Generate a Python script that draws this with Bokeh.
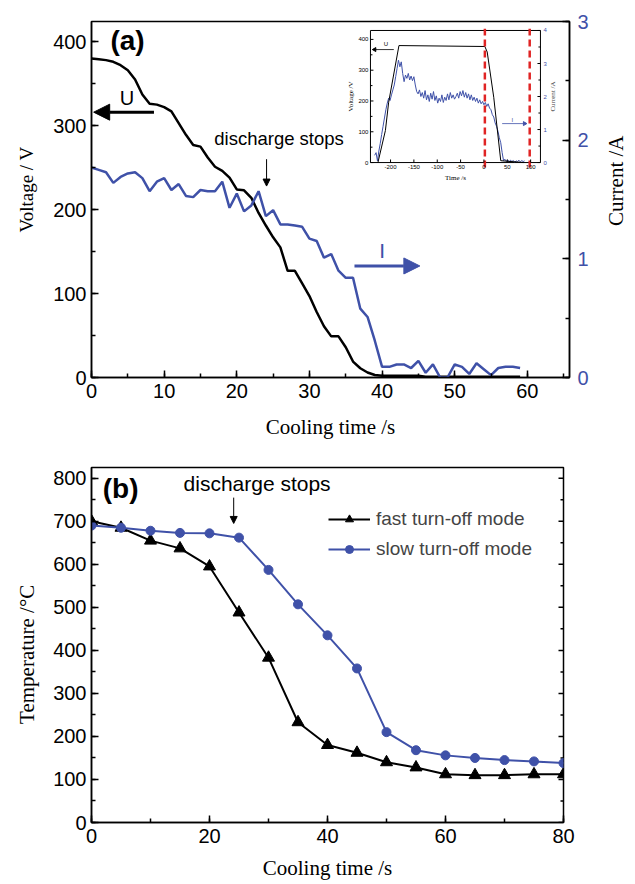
import math
from bokeh.plotting import figure
from bokeh.models import (Range1d, LinearAxis, SingleIntervalTicker, Arrow, NormalHead,
                          Legend, LegendItem, Label)
from bokeh.layouts import column, row
from bokeh.embed import file_html
from bokeh.resources import INLINE
from bokeh.core.properties import value

BLUE = "#3f51a8"
RED = "#e02424"
SANS = "Liberation Sans"
SERIF = "Liberation Serif"

# ---------------- data: panel (a) ----------------
time_a = list(range(60))
voltage_a = [380, 379, 378, 376, 372, 366, 355, 337, 326, 325,
             322, 317, 303, 289, 277, 275, 262, 251, 246, 238,
             224, 223, 214, 196, 181, 167, 155, 127, 127, 112,
             97, 78, 61, 49, 49, 36, 19, 11, 6, 3,
             2, 2, 2, 2, 2, 2, 1, 1, 1, 1,
             1, 1, 1, 1, 1, 1, 1, 1, 1, 1]
current_a = [1.77, 1.75, 1.73, 1.64, 1.69, 1.72, 1.73, 1.68, 1.57, 1.65,
             1.68, 1.58, 1.63, 1.53, 1.52, 1.58, 1.57, 1.57, 1.65, 1.43,
             1.55, 1.40, 1.45, 1.57, 1.36, 1.41, 1.29, 1.29, 1.28, 1.27,
             1.17, 1.15, 1.01, 1.04, 0.90, 0.84, 0.84, 0.58, 0.51, 0.31,
             0.09, 0.09, 0.11, 0.11, 0.08, 0.14, 0.04, 0.11, 0.00, 0.00,
             0.11, 0.09, 0.03, 0.12, 0.07, 0.02, 0.08, 0.09, 0.09, 0.08]

# ---------------- data: inset ----------------
inset_time_u = [-227, -211, -204, -182, 2, 7, 21, 36, 85]
inset_voltage = [0, 104, 196, 380, 377, 359, 212, 6, 0]
inset_current = [0.22, 0.30, 0.05, 0.35, 0.58, 0.85, 1.10, 1.35, 1.60, 1.80,
                 1.95, 1.88, 2.05, 2.20, 2.35, 2.60, 2.85, 3.10, 2.90, 3.05,
                 2.70, 2.45, 2.65, 2.55, 2.70, 2.50, 2.62, 2.48, 2.60, 2.35,
                 2.15, 2.08, 2.20, 2.00, 2.12, 1.95, 2.18, 1.90, 2.05, 1.85,
                 2.10, 1.92, 2.15, 1.88, 2.02, 1.80, 1.95, 1.85, 2.05, 1.82,
                 1.98, 1.88, 2.08, 1.90, 2.12, 1.95, 2.05, 1.92, 2.00, 2.10,
                 1.95, 2.15, 2.02, 2.18, 1.98, 2.12, 1.95, 2.08, 1.90, 2.05,
                 1.88, 1.98, 1.85, 1.95, 1.80, 1.90, 1.78, 1.85, 1.75, 1.82,
                 1.70, 1.78, 1.65, 1.60, 1.45, 1.38, 1.20, 1.10, 0.95, 0.75,
                 0.60, 0.30, 0.06, 0.10, 0.04, 0.08, 0.02, 0.07, 0.03, 0.06,
                 0.01, 0.05, 0.03, 0.07, 0.02, 0.06, 0.03, 0.05]
inset_time_i = list(range(-234, -234 + 3 * len(inset_current), 3))
inset_marks = [2, 98]
inset_x_ticks = [-200, -150, -100, -50, 0, 50, 100]
inset_v_ticks = [0, 100, 200, 300, 400]
inset_v_minor = [50, 150, 250, 350]
inset_i_ticks = [0, 1, 2, 3, 4]
inset_i_minor = [0.5, 1.5, 2.5, 3.5]
inset_x_lim = (-243, 121)
inset_v_lim = (0, 429)
inset_i_lim = (0, 4)

# ---------------- data: panel (b) ----------------
time_b = [0, 5, 10, 15, 20, 25, 30, 35, 40, 45, 50, 55, 60, 65, 70, 75, 80]
temp_fast = [700, 685, 655, 637, 595, 488, 383, 233, 180, 162, 140, 128, 112, 110, 110, 112, 112]
temp_slow = [690, 685, 678, 673, 672, 662, 587, 507, 435, 358, 210, 168, 156, 150, 145, 142, 138]
temp_major = [0, 100, 200, 300, 400, 500, 600, 700, 800]
temp_minor = [50, 150, 250, 350, 450, 550, 650, 750]


def style_axis(ax, size="20px", label_size="21px", maj=7, mnr=4, lw=1.5):
    ax.axis_line_width = lw
    ax.major_tick_line_width = lw
    ax.minor_tick_line_width = lw
    ax.major_tick_in = maj
    ax.major_tick_out = 0
    ax.minor_tick_in = mnr
    ax.minor_tick_out = 0
    ax.major_label_text_font = SANS
    ax.major_label_text_font_size = size
    ax.major_label_text_color = "black"
    ax.axis_label_text_font = SERIF
    ax.axis_label_text_font_size = label_size
    ax.axis_label_text_font_style = "normal"
    ax.axis_label_text_color = "black"


def label_strip(width, height, text, cx, cy, size="21px"):
    """A thin figure that carries one rotated axis title (cx, cy: pixels from bottom-left)."""
    s = figure(width=width, height=height, output_backend="svg", toolbar_location=None,
               x_range=Range1d(0, width), y_range=Range1d(0, height),
               min_border=0, min_border_left=0, min_border_right=0,
               min_border_top=0, min_border_bottom=0)
    s.axis.visible = False
    s.grid.visible = False
    s.outline_line_color = None
    s.text(x=[cx], y=[cy], text=[text], angle=math.pi / 2, text_font=value(SERIF),
           text_font_size=size, text_align="center", text_baseline="middle",
           text_color="black")
    return s


# ================= panel (a) =================
pa = figure(width=560, height=445, output_backend="svg", toolbar_location=None,
            x_range=Range1d(0, 65.8), y_range=Range1d(0, 424),
            min_border_left=51, min_border_right=31, min_border_top=21, min_border_bottom=68)
pa.extra_y_ranges = {"current": Range1d(0, 3)}
pa.xgrid.visible = False
pa.ygrid.visible = False
pa.outline_line_color = "black"
pa.outline_line_width = 1.5
pa.outline_line_alpha = 1

pa.xaxis.ticker = SingleIntervalTicker(interval=10, num_minor_ticks=2)
pa.yaxis.ticker = SingleIntervalTicker(interval=100, num_minor_ticks=2)
style_axis(pa.xaxis[0])
style_axis(pa.yaxis[0])
pa.xaxis.axis_label = "Cooling time /s"
pa.xaxis.major_label_standoff = 6
pa.xaxis.axis_label_standoff = 14
pa.yaxis.major_label_standoff = 5

rax = LinearAxis(y_range_name="current", ticker=SingleIntervalTicker(interval=1, num_minor_ticks=2))
style_axis(rax)
rax.major_label_text_color = BLUE
rax.major_label_standoff = 8
pa.add_layout(rax, "right")

pa.line(time_a, voltage_a, line_color="black", line_width=2.5)
pa.line(time_a, current_a, line_color=BLUE, line_width=2.5, y_range_name="current")

pa.add_layout(Label(x=2.6, y=401, text="(a)", text_font=SANS, text_font_size="28px",
                    text_font_style="bold", text_baseline="middle", text_color="black"))
pa.add_layout(Label(x=4.9, y=333, text="U", text_font=SANS, text_font_size="20px",
                    text_align="center", text_baseline="middle", text_color="black"))
pa.add_layout(Arrow(end=NormalHead(size=16, fill_color="black", line_color="black"),
                    x_start=8.6, y_start=316, x_end=0.3, y_end=316,
                    line_color="black", line_width=3))
pa.add_layout(Label(x=16.9, y=285, text="discharge stops", text_font=SANS, text_font_size="18.5px",
                    text_baseline="middle", text_color="black"))
pa.add_layout(Arrow(end=NormalHead(size=7, fill_color="black", line_color="black"),
                    x_start=24.1, y_start=260, x_end=24.1, y_end=228,
                    line_color="black", line_width=1))
pa.add_layout(Label(x=40.0, y=1.07, y_range_name="current", text="I", text_font=SANS,
                    text_font_size="21px", text_align="center", text_baseline="middle",
                    text_color=BLUE))
pa.add_layout(Arrow(end=NormalHead(size=16, fill_color=BLUE, line_color=BLUE),
                    x_start=36.2, y_start=0.94, x_end=45.2, y_end=0.94, y_range_name="current",
                    line_color=BLUE, line_width=3))

# ================= inset (sub-coordinates inside panel a) =================
box_x = Range1d(38.4, 61.8)     # where the inset frame sits, in panel (a) units
box_y = Range1d(256, 413.3)
sv = pa.subplot(x_source=Range1d(*inset_x_lim), y_source=Range1d(*inset_v_lim),
                x_target=box_x, y_target=box_y)
si = pa.subplot(x_source=Range1d(*inset_x_lim), y_source=Range1d(*inset_i_lim),
                x_target=box_x, y_target=box_y)
xlo, xhi = inset_x_lim
vlo, vhi = inset_v_lim
ilo, ihi = inset_i_lim
tick_v = 10      # 3 px in voltage units
tick_x = 6.4     # 3 px in time units
minor_x = 4.3

sv.quad(left=[xlo], right=[xhi], bottom=[vlo], top=[vhi], fill_color="white",
        line_color="black", line_width=1)
si.line(inset_time_i, inset_current, line_color=BLUE, line_width=1)
sv.line(inset_time_u, inset_voltage, line_color="black", line_width=1)
sv.segment(x0=inset_marks, y0=[vlo - 16] * len(inset_marks), x1=inset_marks,
           y1=[vhi + 6] * len(inset_marks), line_color=RED, line_dash="7 4", line_width=2.5)

nx = len(inset_x_ticks)
sv.segment(x0=inset_x_ticks, y0=[vlo] * nx, x1=inset_x_ticks, y1=[vlo + tick_v] * nx,
           line_color="black", line_width=1)
sv.text(x=inset_x_ticks, y=[vlo] * nx, text=[str(t) for t in inset_x_ticks],
        text_font=value(SANS), text_font_size="6px", text_align="center",
        text_baseline="top", y_offset=2, text_color="black")
nv = len(inset_v_ticks)
sv.segment(x0=[xlo] * nv, y0=inset_v_ticks, x1=[xlo + tick_x] * nv, y1=inset_v_ticks,
           line_color="black", line_width=1)
sv.segment(x0=[xlo] * len(inset_v_minor), y0=inset_v_minor,
           x1=[xlo + minor_x] * len(inset_v_minor), y1=inset_v_minor,
           line_color="black", line_width=1)
sv.text(x=[xlo] * nv, y=inset_v_ticks, text=[str(t) for t in inset_v_ticks],
        text_font=value(SANS), text_font_size="6px", text_align="right",
        text_baseline="middle", x_offset=-2, text_color="black")
ni = len(inset_i_ticks)
si.segment(x0=[xhi] * ni, y0=inset_i_ticks, x1=[xhi - tick_x] * ni, y1=inset_i_ticks,
           line_color="black", line_width=1)
si.segment(x0=[xhi] * len(inset_i_minor), y0=inset_i_minor,
           x1=[xhi - minor_x] * len(inset_i_minor), y1=inset_i_minor,
           line_color="black", line_width=1)
si.text(x=[xhi] * ni, y=inset_i_ticks, text=[str(t) for t in inset_i_ticks],
        text_font=value(SANS), text_font_size="6px", text_align="left",
        text_baseline="middle", x_offset=3, text_color=BLUE)
sv.text(x=[(xlo + xhi) / 2], y=[vlo], text=["Time /s"], text_font=value(SERIF),
        text_font_size="7px", text_align="center", text_baseline="top", y_offset=11,
        text_color="black")
sv.text(x=[xlo], y=[(vlo + vhi) / 2], text=["Voltage /V"], text_font=value(SERIF),
        text_font_size="7px", text_align="center", text_baseline="middle", x_offset=-19,
        angle=math.pi / 2, text_color="black")
si.text(x=[xhi], y=[(ilo + ihi) / 2], text=["Current /A"], text_font=value(SERIF),
        text_font_size="7px", text_align="center", text_baseline="middle", x_offset=13,
        angle=math.pi / 2, text_color="#444444")
sv.text(x=[-210], y=[384], text=["U"], text_font=value(SANS), text_font_size="6px",
        text_align="center", text_baseline="middle", text_color="black")
sv.segment(x0=[-193], y0=[367], x1=[-232], y1=[367], line_color="black", line_width=0.8)
sv.scatter(x=[-234], y=[367], marker="triangle", angle=math.pi / 2, size=4,
           fill_color="black", line_color="black")
si.text(x=[61], y=[1.3], text=["I"], text_font=value(SANS), text_font_size="6px",
        text_align="center", text_baseline="middle", text_color=BLUE)
si.segment(x0=[39], y0=[1.18], x1=[84], y1=[1.18], line_color=BLUE, line_width=0.8)
si.scatter(x=[87], y=[1.18], marker="triangle", angle=-math.pi / 2, size=4,
           fill_color=BLUE, line_color=BLUE)

left_a = label_strip(40, 445, "Voltage / V", 26, 235, size="19px")
right_a = label_strip(27, 445, "Current /A", 15, 246)

# ================= panel (b) =================
pb = figure(width=587, height=439, output_backend="svg", toolbar_location=None,
            x_range=Range1d(0, 80), y_range=Range1d(0, 825),
            min_border_left=51, min_border_right=64, min_border_top=22, min_border_bottom=62)
pb.xgrid.visible = False
pb.ygrid.visible = False
pb.outline_line_color = "black"
pb.outline_line_width = 1.5
pb.xaxis.ticker = SingleIntervalTicker(interval=20, num_minor_ticks=2)
pb.yaxis.ticker = SingleIntervalTicker(interval=100, num_minor_ticks=2)
style_axis(pb.xaxis[0])
style_axis(pb.yaxis[0])
pb.xaxis.axis_label = "Cooling time /s"
pb.xaxis.major_label_standoff = 6
pb.xaxis.axis_label_standoff = 10
pb.yaxis.major_label_standoff = 5

# right-hand mirror ticks (inward), drawn as clipped dashes on the frame edge
right_edge = pb.x_range.end
pb.scatter([right_edge] * len(temp_major), temp_major, marker="dash", size=10,
           line_color="black", line_width=1.5)
pb.scatter([right_edge] * len(temp_minor), temp_minor, marker="dash", size=6,
           line_color="black", line_width=1.5)

lf = pb.line(time_b, temp_fast, line_color="black", line_width=2)
sf = pb.scatter(time_b, temp_fast, marker="triangle", size=12, fill_color="black", line_color="black")
ls = pb.line(time_b, temp_slow, line_color=BLUE, line_width=2)
ss = pb.scatter(time_b, temp_slow, marker="circle", size=9, fill_color=BLUE, line_color=BLUE)

leg = Legend(items=[LegendItem(label="fast turn-off mode", renderers=[lf, sf]),
                    LegendItem(label="slow turn-off mode", renderers=[ls, ss])],
             location=(237, 262), glyph_width=42, glyph_height=20, label_height=20,
             spacing=8, padding=0, margin=0, label_standoff=6,
             label_text_font=SANS, label_text_font_size="19px",
             border_line_color=None, background_fill_alpha=0)
pb.add_layout(leg, "center")

pb.add_layout(Label(x=1.9, y=777, text="(b)", text_font=SANS, text_font_size="28px",
                    text_font_style="bold", text_baseline="middle", text_color="black"))
pb.add_layout(Label(x=15.6, y=788, text="discharge stops", text_font=SANS, text_font_size="21px",
                    text_baseline="middle", text_color="black"))
pb.add_layout(Arrow(end=NormalHead(size=7, fill_color="black", line_color="black"),
                    x_start=24.1, y_start=755, x_end=24.1, y_end=695,
                    line_color="black", line_width=1))

left_b = label_strip(40, 439, "Temperature /°C", 26, 208)

layout = column(row(left_a, pa, right_a, spacing=0), row(left_b, pb, spacing=0), spacing=0)
open("out.html", "w").write(file_html(layout, INLINE))
